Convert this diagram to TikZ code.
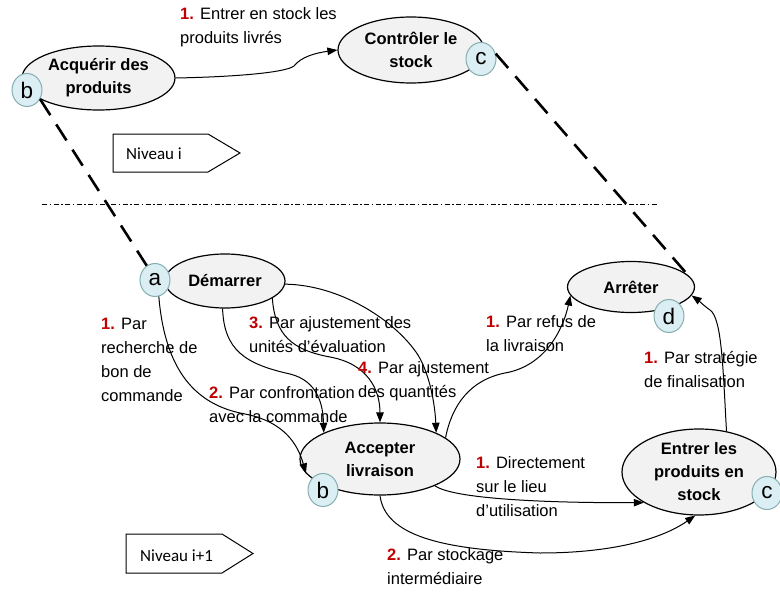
\documentclass[tikz,border=0pt]{standalone}
\usepackage{fontspec}
\setmainfont{Liberation Sans}
\newfontfamily\nivfont{Carlito}
\usetikzlibrary{arrows.meta,shapes.geometric}
\definecolor{procfill}{HTML}{F2F2F2}
\definecolor{circfill}{HTML}{DAEEF3}
\definecolor{circline}{HTML}{86AEB2}
\definecolor{numred}{HTML}{C00000}
\newcommand\nrm[1]{\textcolor{numred}{\bfseries #1}}

\begin{document}
\begin{tikzpicture}[x=1pt,y=-1pt,
  proc/.style={ellipse, draw, fill=procfill, line width=1.2pt, inner sep=-6pt,
    align=center, font=\fontsize{16.5}{23}\selectfont\bfseries},
  letter/.style={ellipse, draw=circline, fill=circfill, line width=1pt,
    minimum width=30pt, minimum height=33pt, inner sep=0pt,
    font=\fontsize{22.5}{22.5}\selectfont},
  lbl/.style={anchor=west, align=left, inner sep=0pt,
    font=\fontsize{16.5}{24}\selectfont},
  flow/.style={line width=1pt, -{Triangle[length=10pt,width=7.5pt]}},
  link/.style={line width=2.6pt, dash pattern=on 19pt off 11pt},
  level/.style={line width=1pt},
  levtxt/.style={anchor=west, inner sep=0pt, font=\nivfont\fontsize{17}{17}\selectfont}
]
\useasboundingbox (0,0) rectangle (780,594);

% level i
\node[proc, minimum width=153pt, minimum height=64pt] (acq) at (98.5,78) {Acquérir des\\produits};
\node[proc, minimum width=146pt, minimum height=66pt] (ctl) at (411,50) {Contrôler le\\stock};

% level i+1
\node[proc, minimum width=120pt, minimum height=54pt] (dem) at (225,281) {Démarrer};
\node[proc, minimum width=127pt, minimum height=51pt] (arr) at (631,287) {Arrêter};
\node[proc, minimum width=160pt, minimum height=72pt] (acc) at (380,459) {Accepter\\livraison};
\node[proc, minimum width=154pt, minimum height=86pt] (ent) at (699,472) {Entrer les\\produits en\\stock};

% level markers
\draw[level] (113,134) -- (208,134) -- (240,153) -- (208,172) -- (113,172) -- cycle;
\node[levtxt] (niv1) at (126,154) {Niveau i};
\draw[level] (126,534) -- (222,534) -- (253,553.5) -- (222,573) -- (126,573) -- cycle;
\node[levtxt] (niv2) at (140,556) {Niveau i+1};

% separator between levels
\draw[line width=0.8pt, dash pattern=on 5pt off 2.5pt on 1.5pt off 2.5pt] (42,204) -- (657,204);

% transitions
\draw[flow] (acq.east) .. controls (230,77) and (285,73) .. (294,66)
  .. controls (301,57) and (315,53) .. (ctl.west);
\draw[flow] (dem.-95) .. controls (224,350) and (245,364) .. (290,374)
  .. controls (318,381) and (323,405) .. (acc.155);
\draw[flow] (dem.-20) .. controls (275,335) and (292,350) .. (330,357)
  .. controls (368,364) and (380,390) .. (acc.90);
\draw[flow] (dem.-3) .. controls (340,285) and (395,320) .. (418,355)
  .. controls (430,375) and (435,405) .. (acc.25);
\draw[flow] (acc.18) .. controls (452,405) and (470,380) .. (505,373)
  .. controls (545,366) and (563,330) .. (arr.188);
\draw[flow] (ent.56) .. controls (723,370) and (722,318) .. (710,310)
  .. controls (703,305) and (698,300) .. (arr.-8);
\draw[flow] (acc.-26) .. controls (455,500) and (560,503) .. (ent.209);
\draw[flow] (acc.-90) .. controls (385,535) and (440,550) .. (540,553)
  .. controls (610,553) and (660,540) .. (ent.-95);

% state letters
\node[letter] (btop) at (27,90) {b};
\node[letter] (ctop) at (481,59) {c};
\node[letter] (acirc) at (155,280) {a};
\node[letter] (dcirc) at (669,316) {d};
\node[letter] (bbot) at (323,490) {b};
\node[letter] (cbot) at (767,493) {c};

\draw[flow] (acirc.-77) .. controls (165,370) and (195,405) .. (245,414)
  .. controls (285,422) and (298,445) .. (acc.191);

% refinement links
\draw[link] (btop.-35) -- (acirc.120);
\draw[link] (ctop.20) -- (arr.12);

% transition labels
\node[lbl] (l1) at (180,27) {\nrm{1.} Entrer en stock les\\produits livrés};
\node[lbl] (l2) at (101,360) {\nrm{1.} Par\\recherche de\\bon de\\commande};
\node[lbl] (l3) at (209,405) {\nrm{2.} Par confrontation\\avec la commande};
\node[lbl] (l4) at (249,335) {\nrm{3.} Par ajustement des\\unités d'évaluation};
\node[lbl] (l5) at (358,381) {\nrm{4.} Par ajustement\\des quantités};
\node[lbl] (l6) at (486,334) {\nrm{1.} Par refus de\\la livraison};
\node[lbl] (l7) at (644,370) {\nrm{1.} Par stratégie\\de finalisation};
\node[lbl] (l8) at (476,487) {\nrm{1.} Directement\\sur le lieu\\d'utilisation};
\node[lbl] (l9) at (387,567) {\nrm{2.} Par stockage\\intermédiaire};
\end{tikzpicture}
\end{document}
